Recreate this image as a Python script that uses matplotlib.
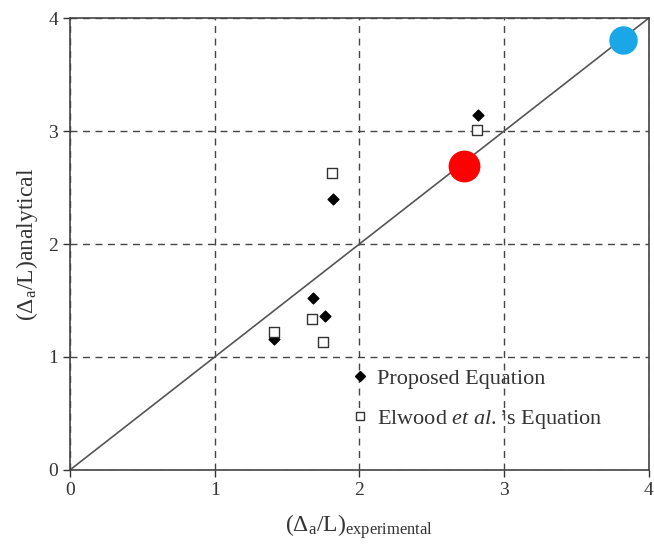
import matplotlib
matplotlib.use("Agg")
import matplotlib.pyplot as plt
from matplotlib.lines import Line2D

plt.rcParams['font.family'] = ['Liberation Serif', 'DejaVu Serif']
plt.rcParams['mathtext.fontset'] = 'custom'
plt.rcParams['mathtext.rm'] = 'Liberation Serif'
plt.rcParams['mathtext.it'] = 'Liberation Serif:italic'

proposed_x = [2.82, 1.82, 1.68, 1.76, 1.41]
proposed_y = [3.14, 2.40, 1.52, 1.36, 1.16]
elwood_x = [2.81, 1.81, 1.67, 1.75, 1.41]
elwood_y = [3.01, 2.63, 1.34, 1.13, 1.22]
red_pt = (2.72, 2.69)
blue_pt = (3.82, 3.805)
line_xy = [0, 4]
ticks = [0, 1, 2, 3, 4]

fig = plt.figure(figsize=(6.54, 5.49), dpi=100)
ax = fig.add_axes([0.107, 0.144, 0.885, 0.823])

ax.plot(line_xy, line_xy, color='#555555', lw=1.2, zorder=2)
ax.scatter(proposed_x, proposed_y, marker='D', s=30, color='black', zorder=3)
ax.scatter(elwood_x, elwood_y, marker='s', s=42, facecolor='white', edgecolor='#333333', linewidth=1.0, zorder=3)
ax.scatter([red_pt[0]], [red_pt[1]], s=480, color='#ff0000', zorder=4)
ax.scatter([blue_pt[0]], [blue_pt[1]], s=380, color='#1aa7e8', zorder=4)

ax.set_xlim(0, 4)
ax.set_ylim(0, 4)
ax.set_xticks(ticks)
ax.set_yticks(ticks)
ax.tick_params(direction='out', labelsize=14, length=5, width=1, colors='#333333', labelcolor='#333333')
ax.grid(True, linestyle=(0, (5, 4)), color='#444444', lw=1.0)
for s in ax.spines.values():
    s.set_color('#444444')
    s.set_linewidth(1.2)

ax.set_xlabel(r'$(\Delta_{\rm a}/{\rm L})_{\rm experimental}$', fontsize=17, color='#333333', labelpad=10)
ax.set_ylabel(r'$(\Delta_{\rm a}/{\rm L}){\rm analytical}$', fontsize=17, color='#333333', labelpad=6)

handles = [Line2D([], [], marker='D', color='black', linestyle='None', markersize=5.5),
           Line2D([], [], marker='s', markerfacecolor='white', markeredgecolor='#333333', linestyle='None', markersize=6)]
labels = ['Proposed Equation', "Elwood $\\mathit{et\\ al.}\\mathrm{\u2019s\\ Equation}$"]
leg = ax.legend(handles, labels, loc='upper left', bbox_to_anchor=(0.475, 0.245), frameon=False,
                fontsize=16, handlelength=0.6, handletextpad=0.45, labelspacing=0.85, borderaxespad=0)
for t in leg.get_texts():
    t.set_color('#333333')

fig.savefig('out.png', dpi=100)
